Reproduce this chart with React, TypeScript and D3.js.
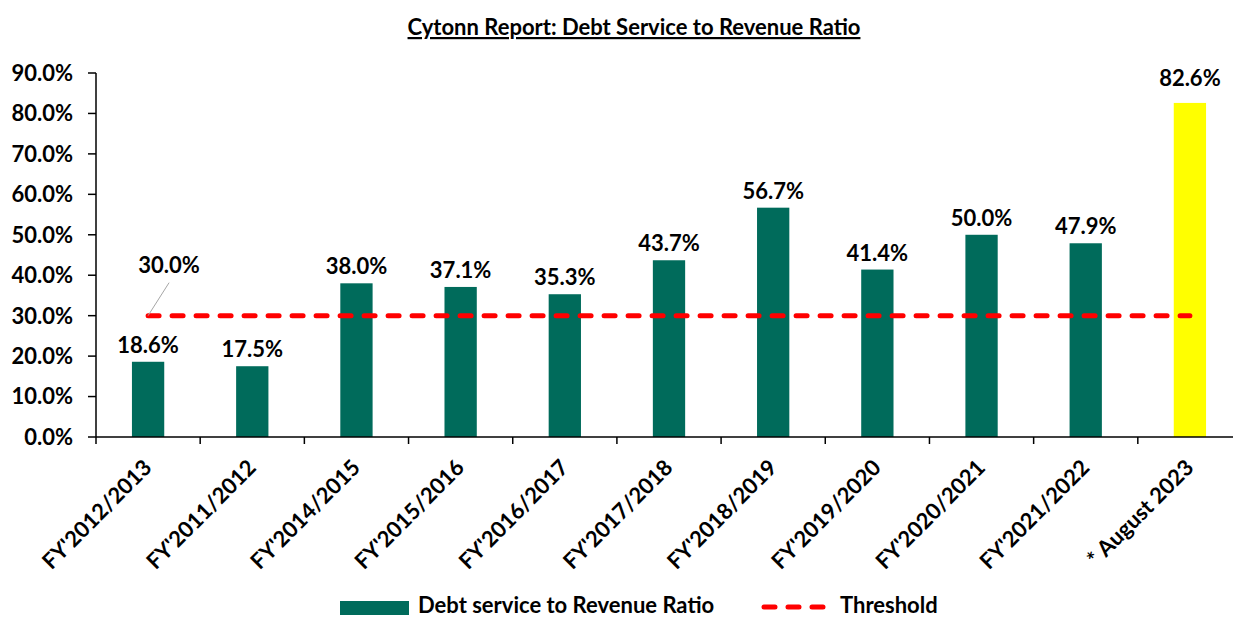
import React from 'react';
import * as d3 from 'd3';

const categories = [
  "FY'2012/2013",
  "FY'2011/2012",
  "FY'2014/2015",
  "FY'2015/2016",
  "FY'2016/2017",
  "FY'2017/2018",
  "FY'2018/2019",
  "FY'2019/2020",
  "FY'2020/2021",
  "FY'2021/2022",
  '* August 2023',
];
const ratioValues = [18.6, 17.5, 38.0, 37.1, 35.3, 43.7, 56.7, 41.4, 50.0, 47.9, 82.6];
const thresholdValues = [30, 30, 30, 30, 30, 30, 30, 30, 30, 30, 30];
const yTicks = [0, 10, 20, 30, 40, 50, 60, 70, 80, 90];

const FONT = 'Lato, "Open Sans", sans-serif';
const FS = 22;
const GREEN = '#006B5B';
const YELLOW = '#FFFF00';
const RED = '#FF0000';

export default function App() {
  const width = 1233;
  const height = 618;
  const margin = { top: 73, right: -9, bottom: 181, left: 96 };
  const plotBottom = height - margin.bottom;

  const x = d3.scaleBand()
    .domain(categories)
    .range([margin.left, width - margin.right])
    .paddingInner(0)
    .paddingOuter(0);

  const y = d3.scaleLinear()
    .domain([0, 90])
    .range([plotBottom, margin.top]);

  const barW = x.bandwidth() * 0.31;
  const cx = (c: string) => (x(c) as number) + x.bandwidth() / 2;

  const line = d3.line<number>()
    .x((d, i) => cx(categories[i]))
    .y((d) => y(d));

  const lastIdx = categories.length - 1;
  const firstX = cx(categories[0]);
  const thrY = y(thresholdValues[0]);

  return (
    <svg
      width={width}
      height={height}
      style={{ position: 'absolute', left: 0, top: 0, background: '#fff' }}
      fontFamily={FONT}
    >
      <text
        x={634}
        y={35}
        textAnchor="middle"
        fontSize={FS}
        fontWeight="bold"
        textDecoration="underline"
        fill="#000"
      >
        Cytonn Report: Debt Service to Revenue Ratio
      </text>

      {/* y axis */}
      <line x1={margin.left} x2={margin.left} y1={y(90)} y2={plotBottom} stroke="#000" strokeWidth={1.5} />
      {yTicks.map((t) => (
        <g key={t}>
          <line x1={margin.left - 8} x2={margin.left} y1={y(t)} y2={y(t)} stroke="#000" strokeWidth={1.5} />
          <text
            x={margin.left - 23}
            y={y(t)}
            dy="0.36em"
            textAnchor="end"
            fontSize={FS}
            fontWeight="bold"
            fill="#000"
          >
            {t.toFixed(1) + '%'}
          </text>
        </g>
      ))}

      {/* bars */}
      {categories.map((c, i) => (
        <rect
          key={c}
          x={cx(c) - barW / 2}
          y={y(ratioValues[i])}
          width={barW}
          height={plotBottom - y(ratioValues[i])}
          fill={i === lastIdx ? YELLOW : GREEN}
        />
      ))}

      {/* x axis */}
      <line x1={margin.left} x2={width} y1={plotBottom} y2={plotBottom} stroke="#000" strokeWidth={1.5} />
      {categories.map((c) => (
        <line
          key={'t' + c}
          x1={x(c) as number}
          x2={x(c) as number}
          y1={plotBottom}
          y2={plotBottom + 7}
          stroke="#000"
          strokeWidth={1.5}
        />
      ))}
      {categories.map((c) => (
        <text
          key={'l' + c}
          transform={`translate(${cx(c) + 5},${plotBottom + 32}) rotate(-45)`}
          textAnchor="end"
          fontSize={FS}
          fontWeight="bold"
          fill="#000"
        >
          {c}
        </text>
      ))}

      {/* threshold */}
      <path
        d={line(thresholdValues) as string}
        fill="none"
        stroke={RED}
        strokeWidth={5}
        strokeDasharray="11 13"
        strokeLinecap="round"
      />

      {/* value labels */}
      {categories.map((c, i) => (
        <text
          key={'v' + c}
          x={cx(c)}
          y={y(ratioValues[i]) - (i === lastIdx ? 17 : 9)}
          textAnchor="middle"
          fontSize={FS}
          fontWeight="bold"
          fill="#000"
        >
          {ratioValues[i].toFixed(1) + '%'}
        </text>
      ))}

      {/* threshold label + leader */}
      <line x1={firstX + 21} y1={thrY - 33} x2={firstX} y2={thrY} stroke="#A6A6A6" strokeWidth={1} />
      <text x={firstX + 21} y={thrY - 43} textAnchor="middle" fontSize={FS} fontWeight="bold" fill="#000">
        {thresholdValues[0].toFixed(1) + '%'}
      </text>

      {/* legend */}
      <rect x={340} y={601} width={69} height={14} fill={GREEN} />
      <text x={418} y={613} fontSize={FS} fontWeight="bold" fill="#000">
        Debt service to Revenue Ratio
      </text>
      <line
        x1={764}
        x2={824}
        y1={607}
        y2={607}
        stroke={RED}
        strokeWidth={5}
        strokeDasharray="11 13"
        strokeLinecap="round"
      />
      <text x={840} y={613} fontSize={FS} fontWeight="bold" fill="#000">
        Threshold
      </text>
    </svg>
  );
}
